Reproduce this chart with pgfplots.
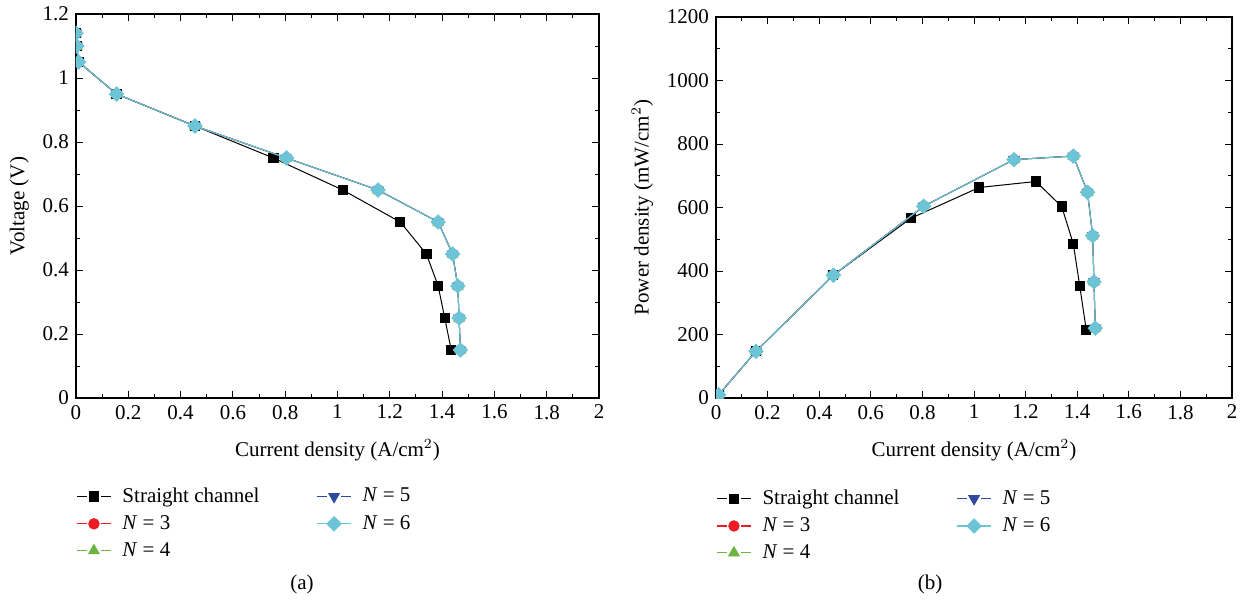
\documentclass[border=0pt]{standalone}
\usepackage{fontspec}
\setmainfont{Liberation Serif}
\usepackage{pgfplots}
\usepackage{pgfplotstable}
\pgfplotsset{compat=1.18}
\newcommand\fsz{\fontsize{10.5}{12.6}\selectfont}

\definecolor{cred}{HTML}{ED1C24}
\definecolor{cgreen}{HTML}{6DB33F}
\definecolor{cblue}{HTML}{2E4A9E}
\definecolor{ccyan}{HTML}{6CC5D6}

% straight channel
\pgfplotstableread{
I V P
0.000 1.14 0
0.003 1.10 3
0.010 1.05 10
0.155 0.95 147
0.455 0.85 387
0.755 0.75 566
1.020 0.65 663
1.240 0.55 682
1.340 0.45 603
1.385 0.35 485
1.410 0.25 352
1.435 0.15 215
}\straight

% N = 3 ... 6 (nearly identical)
\pgfplotstableread{
I V P
0.000 1.14 0
0.003 1.10 3
0.010 1.05 10
0.155 0.95 147
0.455 0.85 387
0.805 0.75 604
1.155 0.65 751
1.385 0.55 762
1.440 0.45 648
1.460 0.35 511
1.465 0.25 366
1.470 0.15 220
}\nsix

\pgfplotsset{
  every tick label/.append style={font=\fsz},
  every axis label/.append style={font=\fsz},
  myaxis/.style={
    scale only axis,
    anchor=north west,
    xmin=0, xmax=2,
    xtick distance=0.2,
    minor x tick num=1,
    tick align=inside,
    major tick length=3.5pt,
    minor tick length=2pt,
    axis line style={line width=0.6pt},
    every tick/.style={black, line width=0.5pt},
    /pgf/number format/assume math mode=true,
    /pgf/number format/1000 sep={},
    xticklabel style={/pgf/number format/fixed},
    yticklabel style={/pgf/number format/fixed},
    xlabel={Current density (A/cm$^2$)},
    xlabel style={yshift=-3pt},
    clip marker paths=true,
    legend columns=2,
    legend cell align=left,
    legend style={draw=none, fill=none, font=\fsz,
      /tikz/every odd column/.append style={column sep=3.5pt},
      /tikz/every even column/.append style={column sep=26.5pt},
      row sep=1pt},
    legend image code/.code={
      \draw[##1, mark=none, line width=0.55pt] (0pt,0pt) -- (5pt,0pt) (12pt,0pt) -- (17pt,0pt);
      \draw[##1] plot coordinates {(8.5pt,0pt)};
    },
  },
  sq/.style={black, line width=0.5pt, mark=square*, mark size=2.3pt},
  ci/.style={cred, line width=0.5pt, mark=*, mark size=2.6pt},
  tr/.style={cgreen, line width=0.5pt, mark=triangle*, mark size=3pt},
  it/.style={cblue, line width=0.5pt, mark=triangle*, mark size=3pt, mark options={rotate=180}},
  di/.style={ccyan, line width=0.5pt, mark=square*, mark size=2.5pt, mark options={rotate=45}},
}

\begin{document}
\begin{tikzpicture}
\useasboundingbox (0,0) rectangle (622pt,-300.5pt);

\begin{axis}[myaxis,
  at={(38pt,-7pt)},
  width=261.5pt, height=192pt,
  ymin=0, ymax=1.2,
  ytick distance=0.2,
  minor y tick num=1,
  ylabel={Voltage (V)},
  legend style={at={(0,-0.225)}, anchor=north west, xshift=-3pt, yshift=2.5pt},
]
\addplot[sq, forget plot] table[x=I, y=V] {\straight};
\addplot[ci, forget plot] table[x=I, y=V] {\nsix};
\addplot[tr, forget plot] table[x=I, y=V] {\nsix};
\addplot[it, forget plot] table[x=I, y=V] {\nsix};
\addplot[di, forget plot] table[x=I, y=V] {\nsix};
\addlegendimage{sq}\addlegendentry{Straight channel}
\addlegendimage{it}\addlegendentry{\textit{N} = 5}
\addlegendimage{ci}\addlegendentry{\textit{N} = 3}
\addlegendimage{di}\addlegendentry{\textit{N} = 6}
\addlegendimage{tr}\addlegendentry{\textit{N} = 4}
\end{axis}

\begin{axis}[myaxis,
  at={(358pt,-8.5pt)},
  width=258pt, height=190.5pt,
  ymin=0, ymax=1200,
  ytick distance=200,
  minor y tick num=1,
  ylabel={Power density (mW/cm$^2$)},
  legend style={at={(0,-0.235)}, anchor=north west, xshift=-3pt, yshift=3pt},
]
\addplot[sq, forget plot] table[x=I, y=P] {\straight};
\addplot[ci, forget plot] table[x=I, y=P] {\nsix};
\addplot[tr, forget plot] table[x=I, y=P] {\nsix};
\addplot[it, forget plot] table[x=I, y=P] {\nsix};
\addplot[di, forget plot] table[x=I, y=P] {\nsix};
\addlegendimage{sq}\addlegendentry{Straight channel}
\addlegendimage{it}\addlegendentry{\textit{N} = 5}
\addlegendimage{ci}\addlegendentry{\textit{N} = 3}
\addlegendimage{di}\addlegendentry{\textit{N} = 6}
\addlegendimage{tr}\addlegendentry{\textit{N} = 4}
\end{axis}

\node[font=\fsz] at (151pt,-292pt) {(a)};
\node[font=\fsz] at (465pt,-292pt) {(b)};
\end{tikzpicture}
\end{document}
